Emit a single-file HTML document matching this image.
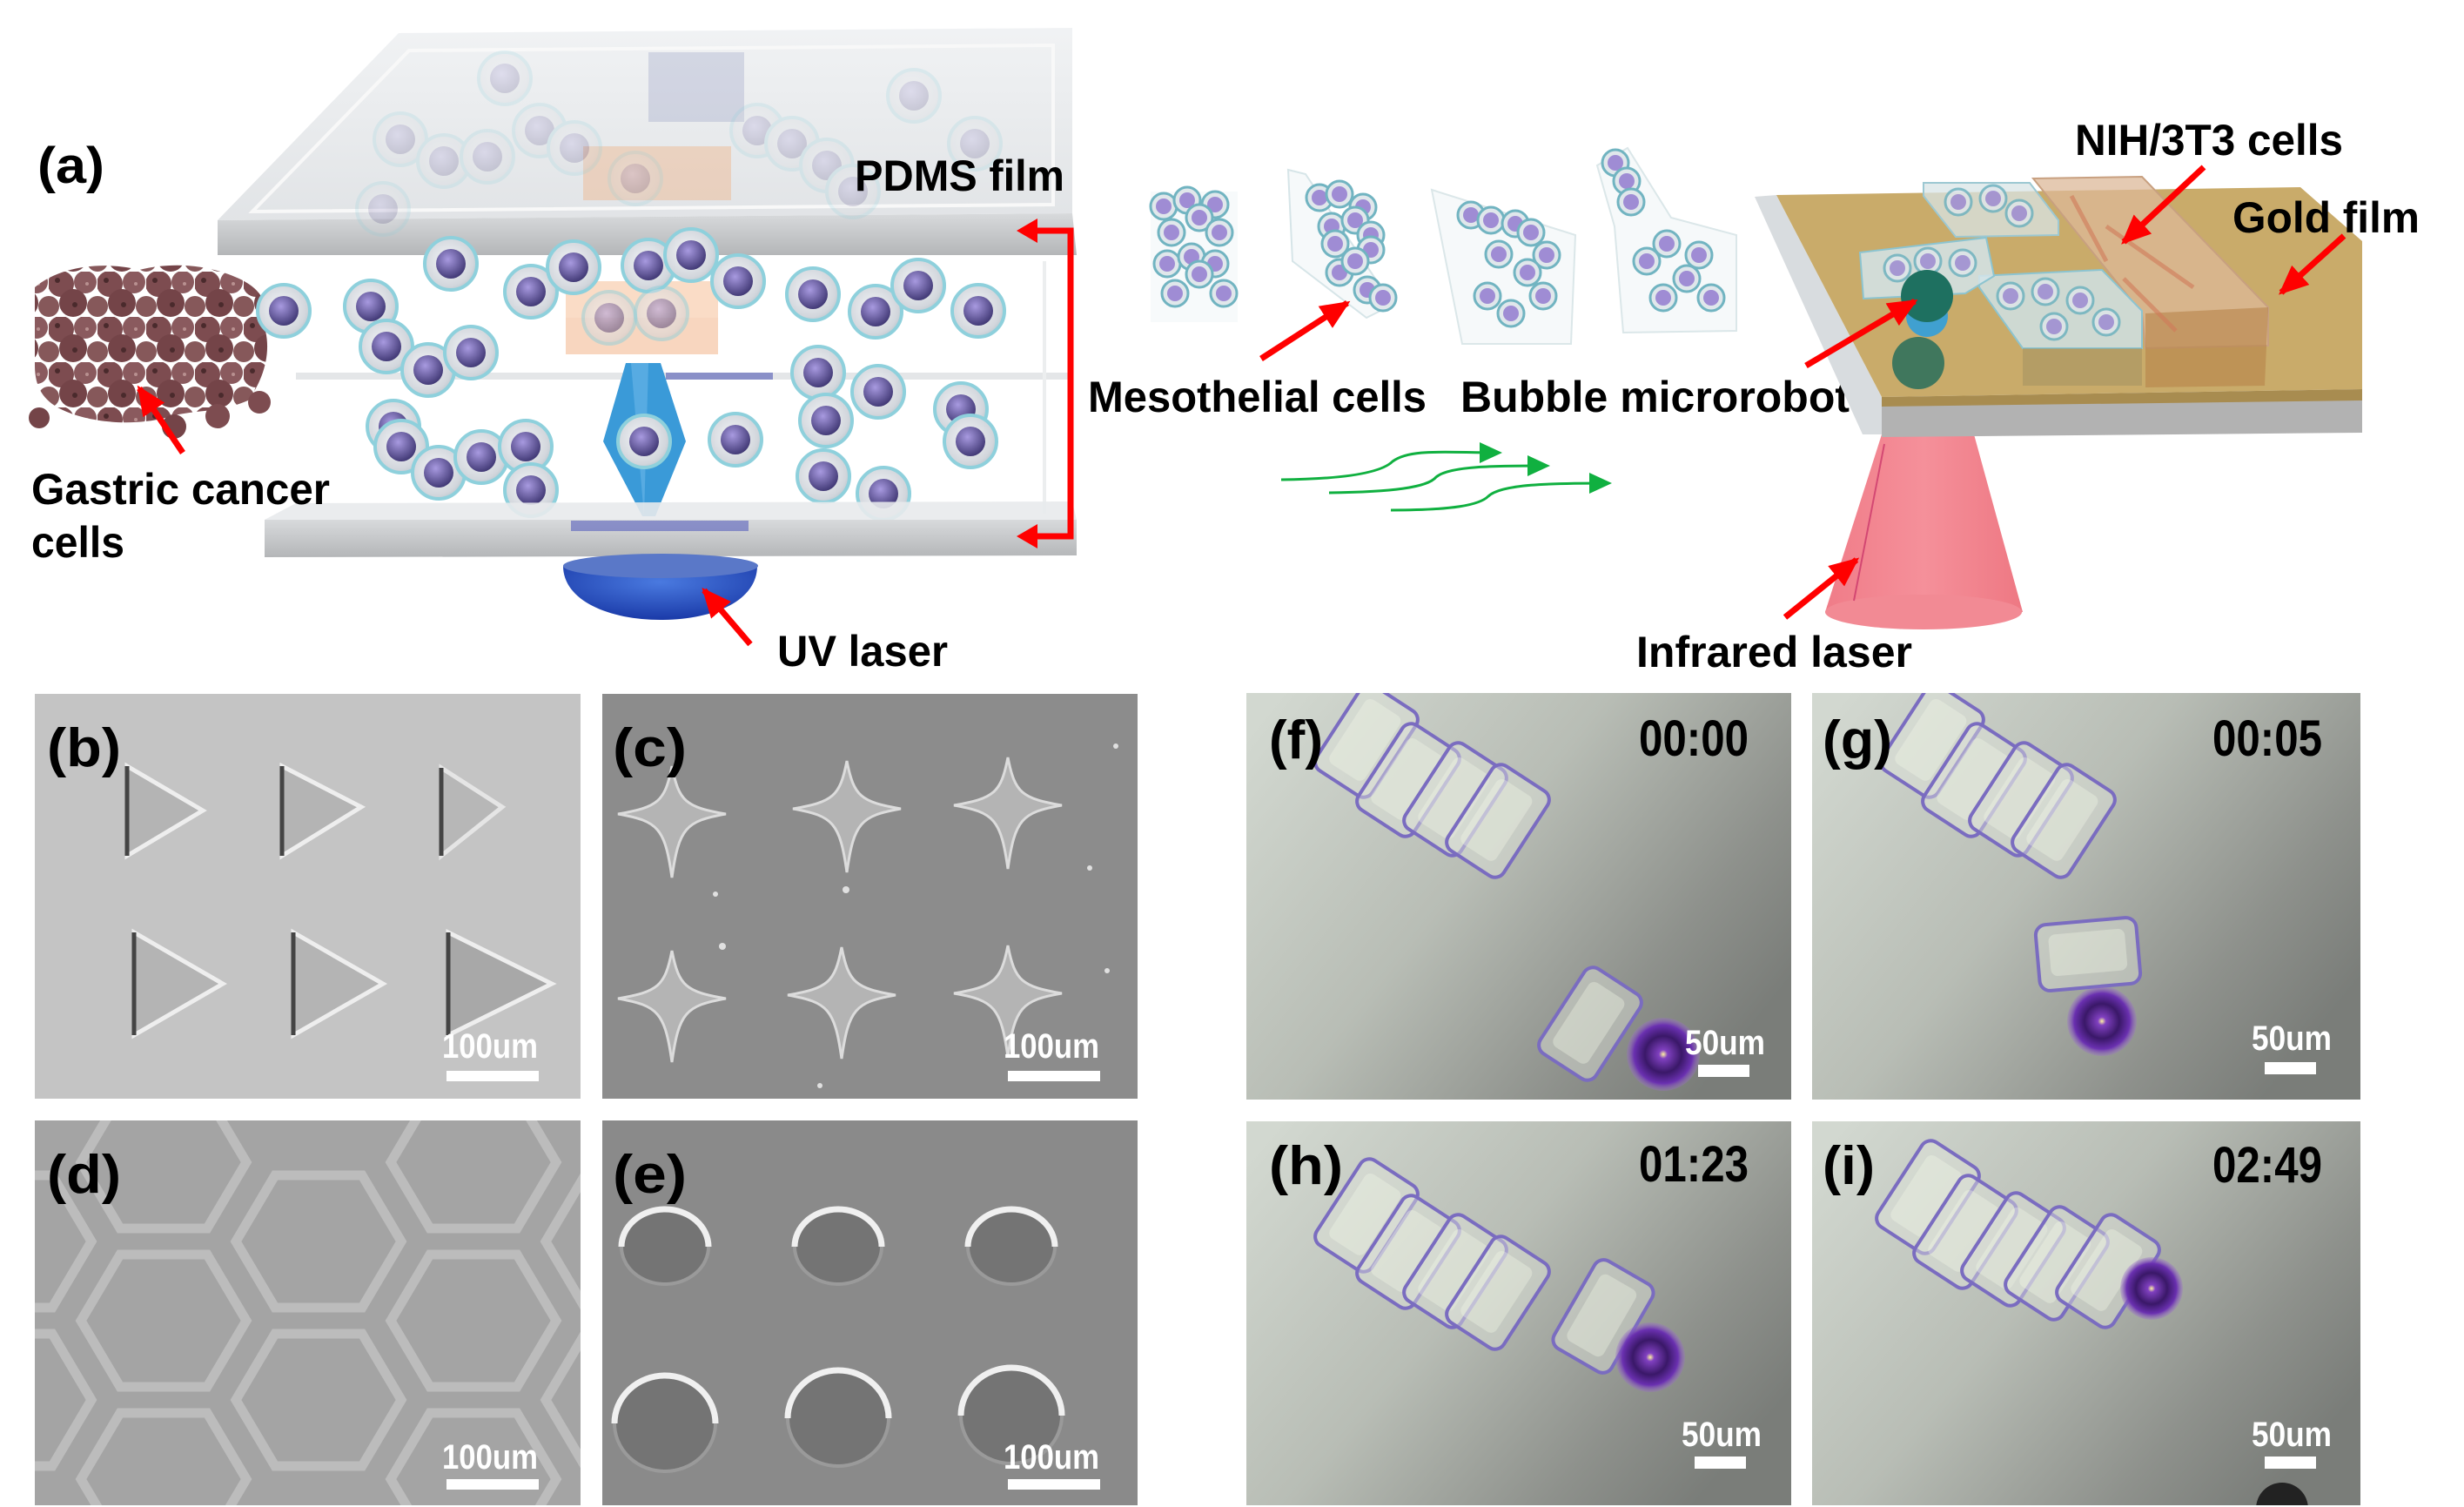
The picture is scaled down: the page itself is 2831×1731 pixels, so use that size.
<!DOCTYPE html>
<html><head><meta charset="utf-8"><style>
html,body{margin:0;padding:0;background:#fff}
svg{display:block}
text{font-family:"Liberation Sans",Arial,sans-serif;font-weight:bold}
</style></head><body>
<svg width="2831" height="1731" viewBox="0 0 2831 1731" xmlns="http://www.w3.org/2000/svg">
<defs>
<marker id="ar" markerUnits="userSpaceOnUse" markerWidth="34" markerHeight="30" refX="30" refY="15" orient="auto"><path d="M0,0 L34,15 L0,30 Z" fill="#ff0000"/></marker>
<marker id="ag" markerUnits="userSpaceOnUse" markerWidth="26" markerHeight="24" refX="22" refY="12" orient="auto"><path d="M0,0 L26,12 L0,24 Z" fill="#10b040"/></marker>
<radialGradient id="cellg" cx="0.45" cy="0.45" r="0.6"><stop offset="0" stop-color="#f4f6f8"/><stop offset="0.8" stop-color="#d2d6dc"/><stop offset="1" stop-color="#b8c4cc"/></radialGradient>
<radialGradient id="nucg" cx="0.4" cy="0.35" r="0.7"><stop offset="0" stop-color="#a89ae0"/><stop offset="1" stop-color="#3c3470"/></radialGradient>
<g id="cell"><circle r="30" fill="url(#cellg)" stroke="#8ed0dc" stroke-width="4"/><circle r="17" fill="url(#nucg)"/></g>
<g id="scell"><circle r="15" fill="#dfe6ea" stroke="#6ab0be" stroke-width="3"/><circle r="9" fill="#9a86d2"/></g>
<pattern id="gc" width="56" height="52" patternUnits="userSpaceOnUse">
<rect width="56" height="52" fill="#fff"/>
<circle cx="14" cy="14" r="15" fill="#7d4c50"/><circle cx="42" cy="12" r="13" fill="#8a5a5e"/><circle cx="28" cy="36" r="16" fill="#744448"/><circle cx="0" cy="40" r="12" fill="#86585a"/><circle cx="56" cy="40" r="12" fill="#86585a"/>
<circle cx="10" cy="10" r="3" fill="#4a2a2c"/><circle cx="30" cy="38" r="3" fill="#4a2a2c"/><circle cx="44" cy="14" r="2" fill="#b89090"/>
</pattern>
<linearGradient id="plate" x1="0" y1="0" x2="0" y2="1"><stop offset="0" stop-color="#eef0f2"/><stop offset="1" stop-color="#dcdfe2"/></linearGradient>
<linearGradient id="edge" x1="0" y1="0" x2="0" y2="1"><stop offset="0" stop-color="#d8dadc"/><stop offset="1" stop-color="#b4b6b8"/></linearGradient>
<linearGradient id="cone" x1="0" y1="0" x2="1" y2="0"><stop offset="0" stop-color="#f07c88"/><stop offset="0.5" stop-color="#f5909a"/><stop offset="1" stop-color="#ee7883"/></linearGradient>
<radialGradient id="blue" cx="0.5" cy="0.3" r="0.7"><stop offset="0" stop-color="#4a7ae0"/><stop offset="1" stop-color="#1a3aa8"/></radialGradient>
<linearGradient id="mic" x1="0" y1="0.1" x2="1" y2="0.7"><stop offset="0" stop-color="#d2d8d0"/><stop offset="0.45" stop-color="#b8bdb5"/><stop offset="0.8" stop-color="#8e918c"/><stop offset="1" stop-color="#7a7d79"/></linearGradient>
<radialGradient id="bub" cx="0.5" cy="0.5" r="0.5"><stop offset="0" stop-color="#fff4a0"/><stop offset="0.12" stop-color="#8040c0"/><stop offset="0.5" stop-color="#3a1868"/><stop offset="0.8" stop-color="#6a30b0"/><stop offset="1" stop-color="#9a70c8" stop-opacity="0.3"/></radialGradient>
<g id="blk"><rect x="-38" y="-58" width="76" height="116" rx="12" fill="#dfe4dc" fill-opacity="0.45" stroke="#7a6cc0" stroke-width="4"/><rect x="-26" y="-44" width="48" height="88" rx="8" fill="#f4f8e8" fill-opacity="0.35"/></g>
</defs>

<!-- ===== Panel (a) left ===== -->
<polygon points="458,38 1232,32 1232,245 250,253" fill="url(#plate)" opacity="0.85"/>
<polygon points="470,58 1210,52 1210,235 290,243" fill="none" stroke="#f8f8f8" stroke-width="4"/>
<polygon points="250,253 1232,245 1237,293 250,293" fill="url(#edge)"/>
<rect x="745" y="60" width="110" height="80" fill="#8088b8" opacity="0.25"/>
<rect x="670" y="168" width="170" height="62" fill="#f0b080" opacity="0.4"/>
<g opacity="0.2">
<use href="#cell" x="580" y="90"/><use href="#cell" x="1050" y="110"/><use href="#cell" x="460" y="160"/><use href="#cell" x="510" y="185"/><use href="#cell" x="560" y="180"/><use href="#cell" x="620" y="150"/><use href="#cell" x="660" y="170"/><use href="#cell" x="870" y="150"/><use href="#cell" x="910" y="165"/><use href="#cell" x="950" y="190"/><use href="#cell" x="1120" y="165"/><use href="#cell" x="730" y="205"/><use href="#cell" x="980" y="220"/><use href="#cell" x="440" y="240"/>
</g>
<line x1="340" y1="432" x2="1230" y2="432" stroke="#e4e6e8" stroke-width="8"/>
<line x1="765" y1="432" x2="888" y2="432" stroke="#8a90c8" stroke-width="8"/>
<line x1="1200" y1="300" x2="1200" y2="590" stroke="#eceeef" stroke-width="4"/>
<rect x="650" y="323" width="175" height="84" fill="#f2b48a" opacity="0.55"/>
<rect x="650" y="323" width="175" height="42" fill="#fbe0cc" opacity="0.6"/>
<!-- gastric cancer cells -->
<path d="M40,330 C70,305 120,300 160,310 C200,300 240,305 270,318 C300,330 312,350 305,380 C312,410 300,440 285,460 C250,475 220,470 190,480 C150,490 100,485 70,470 C50,460 40,445 40,420 Z" fill="url(#gc)"/>
<circle cx="250" cy="478" r="14" fill="#7d4c50"/><circle cx="298" cy="462" r="13" fill="#7d4c50"/><circle cx="200" cy="490" r="14" fill="#744448"/><circle cx="45" cy="480" r="12" fill="#744448"/>
<g>
<use href="#cell" x="518" y="303"/><use href="#cell" x="610" y="335"/><use href="#cell" x="659" y="307"/><use href="#cell" x="745" y="305"/><use href="#cell" x="794" y="293"/><use href="#cell" x="848" y="323"/><use href="#cell" x="934" y="338"/><use href="#cell" x="1006" y="358"/><use href="#cell" x="1055" y="328"/><use href="#cell" x="1124" y="357"/><use href="#cell" x="326" y="357"/><use href="#cell" x="426" y="352"/><use href="#cell" x="444" y="398"/><use href="#cell" x="492" y="425"/><use href="#cell" x="541" y="405"/><use href="#cell" x="940" y="428"/><use href="#cell" x="1009" y="450"/><use href="#cell" x="949" y="483"/><use href="#cell" x="1104" y="470"/><use href="#cell" x="1115" y="507"/><use href="#cell" x="452" y="490"/><use href="#cell" x="461" y="513"/><use href="#cell" x="504" y="543"/><use href="#cell" x="553" y="525"/><use href="#cell" x="604" y="513"/><use href="#cell" x="610" y="563"/><use href="#cell" x="845" y="505"/><use href="#cell" x="946" y="547"/><use href="#cell" x="1015" y="567"/>
</g>
<use href="#cell" x="700" y="365" opacity="0.5"/><use href="#cell" x="760" y="360" opacity="0.5"/>
<polygon points="719,417 759,417 788,507 753,593 738,593 693,507" fill="#3a9ad8"/>
<polygon points="725,417 745,417 740,593" fill="#6ab8ea" opacity="0.6"/>
<use href="#cell" x="740" y="507"/>
<polygon points="340,578 1232,576 1237,597 304,597" fill="#e8eaec" opacity="0.9"/>
<polygon points="304,597 1237,597 1237,638 304,640" fill="url(#edge)"/>
<rect x="656" y="598" width="204" height="12" fill="#6a70c0" opacity="0.7"/>
<path d="M647,650 L870,650 C870,690 820,712 759,712 C700,712 647,690 647,650 Z" fill="url(#blue)"/>
<ellipse cx="759" cy="650" rx="112" ry="14" fill="#5a78c8"/>
<polyline points="1178,265 1230,265 1230,616 1178,616" fill="none" stroke="#ff0000" stroke-width="7"/>
<polygon points="1168,265 1192,251 1192,279" fill="#ff0000"/>
<polygon points="1168,616 1192,602 1192,630" fill="#ff0000"/>
<line x1="210" y1="520" x2="160" y2="446" stroke="#ff0000" stroke-width="7" marker-end="url(#ar)"/>
<line x1="862" y1="740" x2="809" y2="678" stroke="#ff0000" stroke-width="7" marker-end="url(#ar)"/>
<text x="43" y="210" font-size="58" textLength="77" lengthAdjust="spacingAndGlyphs">(a)</text>
<text x="982" y="219" font-size="50" textLength="241" lengthAdjust="spacingAndGlyphs">PDMS film</text>
<text x="36" y="579" font-size="50" textLength="343" lengthAdjust="spacingAndGlyphs">Gastric cancer</text>
<text x="36" y="640" font-size="50" textLength="107" lengthAdjust="spacingAndGlyphs">cells</text>
<text x="893" y="765" font-size="50" textLength="196" lengthAdjust="spacingAndGlyphs">UV laser</text>

<!-- mesothelial stacks -->
<g opacity="0.95">
<rect x="1322" y="220" width="100" height="150" fill="#eef3f5" opacity="0.5"/>
<use href="#scell" x="1337" y="237"/><use href="#scell" x="1364" y="230"/><use href="#scell" x="1396" y="235"/><use href="#scell" x="1378" y="250"/><use href="#scell" x="1346" y="267"/><use href="#scell" x="1401" y="267"/><use href="#scell" x="1341" y="303"/><use href="#scell" x="1369" y="295"/><use href="#scell" x="1396" y="303"/><use href="#scell" x="1378" y="315"/><use href="#scell" x="1350" y="337"/><use href="#scell" x="1406" y="337"/>
<polygon points="1480,195 1500,200 1600,350 1570,365 1485,300" fill="#eef3f5" opacity="0.6" stroke="#b8d0d6" stroke-width="2"/>
<use href="#scell" x="1516" y="227"/><use href="#scell" x="1539" y="223"/><use href="#scell" x="1566" y="238"/><use href="#scell" x="1530" y="260"/><use href="#scell" x="1557" y="253"/><use href="#scell" x="1575" y="270"/><use href="#scell" x="1575" y="287"/><use href="#scell" x="1534" y="280"/><use href="#scell" x="1539" y="313"/><use href="#scell" x="1557" y="300"/><use href="#scell" x="1571" y="333"/><use href="#scell" x="1589" y="342"/>
<polygon points="1645,218 1810,270 1805,395 1680,395" fill="#eef3f5" opacity="0.6" stroke="#c0d4d8" stroke-width="2"/>
<use href="#scell" x="1690" y="247"/><use href="#scell" x="1713" y="253"/><use href="#scell" x="1741" y="257"/><use href="#scell" x="1759" y="267"/><use href="#scell" x="1722" y="292"/><use href="#scell" x="1777" y="293"/><use href="#scell" x="1755" y="313"/><use href="#scell" x="1709" y="340"/><use href="#scell" x="1773" y="340"/><use href="#scell" x="1736" y="360"/>
<polygon points="1835,190 1870,170 1920,250 1995,270 1995,380 1865,382 1855,260" fill="#eef3f5" opacity="0.6" stroke="#c0d4d8" stroke-width="2"/>
<use href="#scell" x="1856" y="187"/><use href="#scell" x="1869" y="208"/><use href="#scell" x="1874" y="232"/><use href="#scell" x="1892" y="300"/><use href="#scell" x="1915" y="280"/><use href="#scell" x="1952" y="293"/><use href="#scell" x="1938" y="320"/><use href="#scell" x="1911" y="342"/><use href="#scell" x="1966" y="342"/>
</g>
<line x1="1449" y1="412" x2="1548" y2="348" stroke="#ff0000" stroke-width="7" marker-end="url(#ar)"/>
<text x="1250" y="473" font-size="50" textLength="389" lengthAdjust="spacingAndGlyphs">Mesothelial cells</text>
<text x="1678" y="473" font-size="50" textLength="447" lengthAdjust="spacingAndGlyphs">Bubble microrobot</text>
<g fill="none" stroke="#10b040" stroke-width="3">
<path d="M1472,551 C1560,550 1590,540 1600,530 C1620,515 1660,520 1722,520" marker-end="url(#ag)"/>
<path d="M1527,566 C1600,565 1640,560 1650,548 C1665,535 1720,535 1777,535" marker-end="url(#ag)"/>
<path d="M1598,586 C1670,586 1700,580 1710,570 C1725,556 1780,555 1848,555" marker-end="url(#ag)"/>
</g>

<!-- gold plate -->
<polygon points="2097,703 2162,499 2268,499 2324,703" fill="url(#cone)"/>
<ellipse cx="2210" cy="703" rx="113" ry="20" fill="#f28a94"/>
<line x1="2165" y1="510" x2="2130" y2="690" stroke="#c02060" stroke-width="2" opacity="0.6"/>
<polygon points="2016,226 2041,224 2162,456 2162,499 2140,499" fill="#d8dcdf"/>
<polygon points="2041,224 2643,215 2714,277 2714,447 2162,456" fill="#c9ab6a"/>
<polygon points="2162,456 2714,447 2714,463 2162,470" fill="#a88c50"/>
<polygon points="2162,467 2714,460 2714,497 2162,502" fill="#b2b2b2"/>
<polygon points="2210,210 2332,210 2365,253 2365,270 2247,272 2210,225" fill="#d8e4e6" fill-opacity="0.75" stroke="#9cc8d2" stroke-width="2"/>
<polygon points="2336,205 2461,203 2606,353 2606,397 2465,400 2461,360" fill="#dcb898" fill-opacity="0.75" stroke="#c8a080" stroke-width="2"/>
<polygon points="2465,360 2606,353 2602,443 2465,445" fill="#b8844a" fill-opacity="0.6"/>
<path d="M2380,225 L2420,300 M2420,260 L2520,330 M2440,320 L2500,380" stroke="#d07a5a" stroke-width="5" opacity="0.6"/>
<polygon points="2274,317 2415,310 2461,357 2461,400 2324,400 2274,330" fill="#cfe0e4" fill-opacity="0.85" stroke="#8cc4d0" stroke-width="2"/>
<polygon points="2324,400 2461,400 2461,443 2324,443" fill="#a09060" opacity="0.5"/>
<polygon points="2137,290 2282,273 2291,317 2258,337 2141,343" fill="#d4e4ea" fill-opacity="0.85" stroke="#8cc4d0" stroke-width="2"/>
<g opacity="0.8">
<use href="#scell" x="2250" y="232"/><use href="#scell" x="2290" y="228"/><use href="#scell" x="2320" y="245"/>
<use href="#scell" x="2310" y="340"/><use href="#scell" x="2350" y="335"/><use href="#scell" x="2390" y="345"/><use href="#scell" x="2420" y="370"/><use href="#scell" x="2360" y="375"/>
<use href="#scell" x="2180" y="308"/><use href="#scell" x="2215" y="300"/><use href="#scell" x="2255" y="302"/>
</g>
<circle cx="2204" cy="417" r="30" fill="#1e6a5a" opacity="0.8"/>
<circle cx="2214" cy="363" r="24" fill="#40a0d0"/>
<circle cx="2214" cy="340" r="30" fill="#1e7060"/>
<line x1="2532" y1="192" x2="2440" y2="278" stroke="#ff0000" stroke-width="7" marker-end="url(#ar)"/>
<line x1="2693" y1="271" x2="2621" y2="336" stroke="#ff0000" stroke-width="7" marker-end="url(#ar)"/>
<line x1="2075" y1="420" x2="2200" y2="346" stroke="#ff0000" stroke-width="7" marker-end="url(#ar)"/>
<line x1="2051" y1="709" x2="2133" y2="643" stroke="#ff0000" stroke-width="7" marker-end="url(#ar)"/>
<text x="2384" y="178" font-size="50" textLength="308" lengthAdjust="spacingAndGlyphs">NIH/3T3 cells</text>
<text x="2565" y="267" font-size="50" textLength="215" lengthAdjust="spacingAndGlyphs">Gold film</text>
<text x="1880" y="766" font-size="50" textLength="317" lengthAdjust="spacingAndGlyphs">Infrared laser</text>

<!-- (b) -->
<g transform="translate(40,797)">
<rect width="627" height="465" fill="#c4c4c4"/>
<g fill="#b4b4b4" stroke="#eeeeee" stroke-width="5">
<polygon points="106,83 193,134 106,186"/><polygon points="284,83 375,130 284,186"/><polygon points="467,85 537,130 467,186" opacity="0.8"/>
<polygon points="114,274 216,333 114,392"/><polygon points="297,274 400,333 297,392"/><polygon points="475,274 594,333 475,392" fill="#a8a8a8"/>
</g>
<g stroke="#444" stroke-width="5"><line x1="106" y1="83" x2="106" y2="186"/><line x1="284" y1="83" x2="284" y2="186"/><line x1="467" y1="85" x2="467" y2="186"/><line x1="114" y1="274" x2="114" y2="392"/><line x1="297" y1="274" x2="297" y2="392"/><line x1="475" y1="274" x2="475" y2="392"/></g>
<text x="14" y="83" font-size="62" textLength="85" lengthAdjust="spacingAndGlyphs">(b)</text>
<text x="468" y="418" font-size="40" fill="#fff" textLength="110" lengthAdjust="spacingAndGlyphs">100um</text>
<rect x="473" y="433" width="106" height="12" fill="#fff"/>
</g>
<!-- (c) -->
<g transform="translate(692,797)">
<rect width="615" height="465" fill="#8c8c8c"/>
<defs><path id="star" d="M0,-55 C8,-14 16,-8 62,0 C16,8 8,16 0,73 C-8,16 -16,8 -62,0 C-16,-8 -8,-14 0,-55 Z"/></defs>
<g fill="#b4b4b4" stroke="#dcdcdc" stroke-width="3">
<use href="#star" x="80" y="138"/><use href="#star" x="281" y="132"/><use href="#star" x="466" y="128"/>
<use href="#star" x="80" y="350"/><use href="#star" x="275" y="346"/><use href="#star" x="466" y="344"/>
</g>
<g fill="#e0e0e0"><circle cx="130" cy="230" r="3"/><circle cx="280" cy="225" r="4"/><circle cx="560" cy="200" r="3"/><circle cx="138" cy="290" r="4"/><circle cx="580" cy="318" r="3"/><circle cx="250" cy="450" r="3"/><circle cx="590" cy="60" r="3"/></g>
<text x="12" y="83" font-size="62" textLength="85" lengthAdjust="spacingAndGlyphs">(c)</text>
<text x="461" y="418" font-size="40" fill="#fff" textLength="110" lengthAdjust="spacingAndGlyphs">100um</text>
<rect x="466" y="433" width="106" height="12" fill="#fff"/>
</g>
<!-- (d) -->
<g transform="translate(40,1287)">
<svg width="627" height="442" viewBox="0 0 627 442">
<rect width="627" height="442" fill="#a4a4a4"/>
<defs><polygon id="hex" points="-95,0 -50,-76 50,-76 95,0 50,76 -50,76"/></defs>
<g fill="none" stroke="#bcbcbc" stroke-width="11">
<use href="#hex" x="-30" y="139"/><use href="#hex" x="-30" y="321"/>
<use href="#hex" x="148" y="48"/><use href="#hex" x="148" y="230"/><use href="#hex" x="148" y="412"/>
<use href="#hex" x="326" y="139"/><use href="#hex" x="326" y="321"/>
<use href="#hex" x="504" y="48"/><use href="#hex" x="504" y="230"/><use href="#hex" x="504" y="412"/>
<use href="#hex" x="682" y="139"/><use href="#hex" x="682" y="321"/>
</g>
<text x="14" y="83" font-size="62" textLength="85" lengthAdjust="spacingAndGlyphs">(d)</text>
<text x="468" y="400" font-size="40" fill="#fff" textLength="110" lengthAdjust="spacingAndGlyphs">100um</text>
<rect x="473" y="412" width="106" height="12" fill="#fff"/>
</svg>
</g>
<!-- (e) -->
<g transform="translate(692,1287)">
<svg width="615" height="442" viewBox="0 0 615 442">
<rect width="615" height="442" fill="#8a8a8a"/>
<g fill="#747474" stroke="#9a9a9a" stroke-width="4">
<ellipse cx="72" cy="145" rx="50" ry="43"/><ellipse cx="271" cy="145" rx="50" ry="43"/><ellipse cx="470" cy="145" rx="50" ry="43"/>
<ellipse cx="72" cy="348" rx="58" ry="55"/><ellipse cx="271" cy="342" rx="58" ry="55"/><ellipse cx="470" cy="339" rx="58" ry="55"/>
</g>
<g fill="none" stroke="#f0f0f0" stroke-width="7">
<path d="M22,145 A50,43 0 0 1 122,145"/><path d="M221,145 A50,43 0 0 1 321,145"/><path d="M420,145 A50,43 0 0 1 520,145"/>
<path d="M14,348 A58,55 0 0 1 130,348"/><path d="M213,342 A58,55 0 0 1 329,342"/><path d="M412,339 A58,55 0 0 1 528,339"/>
</g>
<text x="12" y="83" font-size="62" textLength="85" lengthAdjust="spacingAndGlyphs">(e)</text>
<text x="461" y="400" font-size="40" fill="#fff" textLength="110" lengthAdjust="spacingAndGlyphs">100um</text>
<rect x="466" y="412" width="106" height="12" fill="#fff"/>
</svg>
</g>

<!-- (f) -->
<g transform="translate(1432,796)">
<svg width="626" height="467" viewBox="0 0 626 467">
<rect width="626" height="467" fill="url(#mic)"/>
<use href="#blk" transform="translate(138,55) rotate(33)"/><use href="#blk" transform="translate(186,100) rotate(33)"/><use href="#blk" transform="translate(240,122) rotate(33)"/><use href="#blk" transform="translate(289,147) rotate(33)"/>
<use href="#blk" transform="translate(395,380) rotate(33)"/>
<circle cx="479" cy="415" r="42" fill="url(#bub)"/>
<text x="26" y="75" font-size="62" textLength="62" lengthAdjust="spacingAndGlyphs">(f)</text>
<text x="451" y="72" font-size="58" textLength="126" lengthAdjust="spacingAndGlyphs">00:00</text>
<text x="504" y="415" font-size="40" fill="#fff" textLength="92" lengthAdjust="spacingAndGlyphs">50um</text>
<rect x="519" y="427" width="59" height="14" fill="#fff"/>
</svg>
</g>
<!-- (g) -->
<g transform="translate(2082,796)">
<svg width="630" height="467" viewBox="0 0 630 467">
<rect width="630" height="467" fill="url(#mic)"/>
<use href="#blk" transform="translate(138,55) rotate(33)"/><use href="#blk" transform="translate(186,100) rotate(33)"/><use href="#blk" transform="translate(240,122) rotate(33)"/><use href="#blk" transform="translate(289,147) rotate(33)"/>
<use href="#blk" transform="translate(317,300) rotate(85)"/>
<circle cx="333" cy="377" r="40" fill="url(#bub)"/>
<text x="12" y="75" font-size="62" textLength="80" lengthAdjust="spacingAndGlyphs">(g)</text>
<text x="460" y="72" font-size="58" textLength="126" lengthAdjust="spacingAndGlyphs">00:05</text>
<text x="505" y="410" font-size="40" fill="#fff" textLength="92" lengthAdjust="spacingAndGlyphs">50um</text>
<rect x="520" y="424" width="59" height="14" fill="#fff"/>
</svg>
</g>
<!-- (h) -->
<g transform="translate(1432,1288)">
<svg width="626" height="441" viewBox="0 0 626 441">
<rect width="626" height="441" fill="url(#mic)"/>
<use href="#blk" transform="translate(138,108) rotate(33)"/><use href="#blk" transform="translate(186,150) rotate(33)"/><use href="#blk" transform="translate(240,172) rotate(33)"/><use href="#blk" transform="translate(289,197) rotate(33)"/>
<use href="#blk" transform="translate(410,224) rotate(30)"/>
<circle cx="464" cy="271" r="40" fill="url(#bub)"/>
<text x="26" y="72" font-size="62" textLength="85" lengthAdjust="spacingAndGlyphs">(h)</text>
<text x="451" y="69" font-size="58" textLength="126" lengthAdjust="spacingAndGlyphs">01:23</text>
<text x="500" y="373" font-size="40" fill="#fff" textLength="92" lengthAdjust="spacingAndGlyphs">50um</text>
<rect x="515" y="385" width="59" height="14" fill="#fff"/>
</svg>
</g>
<!-- (i) -->
<g transform="translate(2082,1288)">
<svg width="630" height="441" viewBox="0 0 630 441">
<rect width="630" height="441" fill="url(#mic)"/>
<use href="#blk" transform="translate(133,87) rotate(33)"/><use href="#blk" transform="translate(176,127) rotate(33)"/><use href="#blk" transform="translate(231,147) rotate(33)"/><use href="#blk" transform="translate(281,163) rotate(33)"/><use href="#blk" transform="translate(340,172) rotate(33)"/>
<circle cx="390" cy="192" r="36" fill="url(#bub)"/>
<circle cx="540" cy="445" r="30" fill="#222"/>
<text x="12" y="72" font-size="62" textLength="60" lengthAdjust="spacingAndGlyphs">(i)</text>
<text x="460" y="70" font-size="58" textLength="126" lengthAdjust="spacingAndGlyphs">02:49</text>
<text x="505" y="373" font-size="40" fill="#fff" textLength="92" lengthAdjust="spacingAndGlyphs">50um</text>
<rect x="520" y="385" width="59" height="14" fill="#fff"/>
</svg>
</g>
</svg>
</body></html>
